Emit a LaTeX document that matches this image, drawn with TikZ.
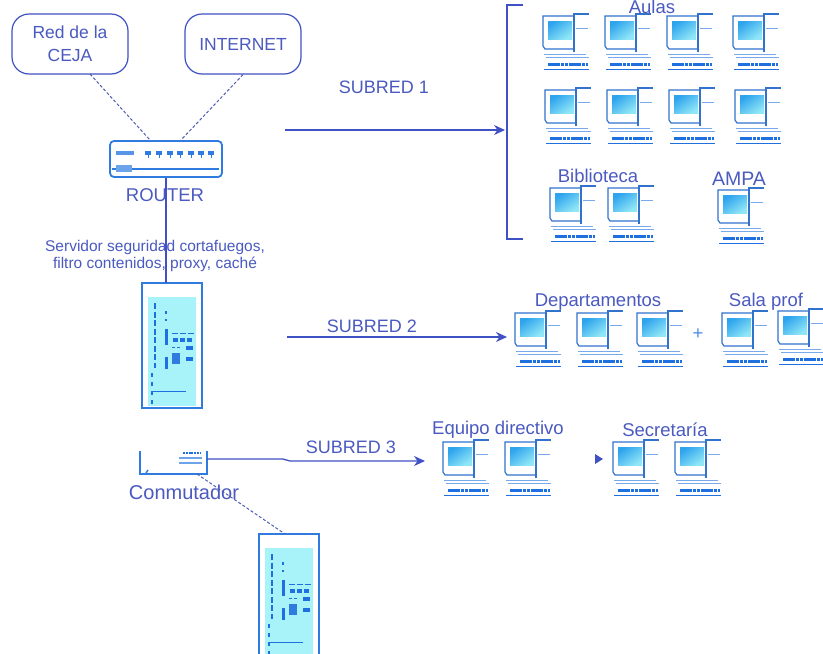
\documentclass[tikz,border=0pt]{standalone}
\usepackage{fontspec}
\setmainfont{Liberation Sans}
\usetikzlibrary{arrows.meta,positioning}
\definecolor{lineblue}{HTML}{3F51C4}
\definecolor{txtblue}{HTML}{4A5AC0}
\definecolor{pcblue}{HTML}{1E6FE0}
\definecolor{scrA}{HTML}{2FA4EE}
\definecolor{scrB}{HTML}{8FE6F6}
\definecolor{srv}{HTML}{A8F2FA}
\definecolor{srvedge}{HTML}{2F7BE0}
\tikzset{
  x=1pt,y=-1pt,
  lbl/.style={font=\fontsize{18.5}{20}\selectfont,text=txtblue,inner sep=0pt,align=center},
  sublbl/.style={font=\fontsize{18}{20}\selectfont,text=txtblue,inner sep=0pt,align=center},
  small/.style={font=\fontsize{15.5}{17.5}\selectfont,text=txtblue,inner sep=0pt,align=center},
  cloudbox/.style={draw=lineblue,line width=1.2pt,rounded corners=17pt,fill=white,inner sep=0pt,
    minimum width=116pt,minimum height=60pt,align=center,font=\fontsize{17.5}{23}\selectfont,text=txtblue},
  link/.style={draw=lineblue!75!gray,line width=1pt,densely dashed},
  wire/.style={draw=lineblue,line width=1.3pt},
  arrow/.style={wire,-{Stealth[length=11pt,width=10pt]}},
  pc/.pic={
    \shade[left color=scrA,right color=scrB,shading angle=35] (5,5) rectangle (29,23);
    \draw[pcblue!80!gray,line width=1.2pt] (30,0)--(0,0)--(0,30)--(2,33)--(30,33);
    \draw[pcblue!80!gray,line width=1.4pt] (31,36)--(31,-2)--(46,-2);
    \draw[pcblue!60!white,line width=1pt] (33,12)--(45,12);
    \draw[pcblue!60!white,line width=1pt] (1,38)--(43,38) (3,41)--(46,41);
    \draw[pcblue,line width=3.6pt,dash pattern=on 3.5pt off .7pt] (5,48.5)--(45,48.5);
    \draw[pcblue,line width=1pt] (1,53)--(46,53);
  },
  server/.pic={
    \draw[srvedge,line width=2.2pt,fill=white] (0,0) rectangle (60,125);
    \fill[srv] (6,14) rectangle (54,123);
    \draw[pcblue,line width=2.6pt,dash pattern=on 6pt off 2.5pt] (13,20)--(13,85);
    \draw[pcblue,line width=1.2pt,dash pattern=on 4pt off 5pt] (10,90)--(10,123);
    \draw[pcblue,line width=2pt] (24,28)--(24,31) (24,36)--(24,38);
    \draw[pcblue,line width=3pt] (24,46)--(24,62) (24,74)--(24,86);
    \draw[pcblue,line width=1pt,dash pattern=on 6pt off 2pt] (30,50)--(52,50);
    \draw[pcblue,line width=3.6pt,dash pattern=on 5pt off 2pt] (31,57)--(51,57);
    \draw[pcblue,line width=3.4pt] (44,65)--(51,65) (44,76)--(51,76);
    \draw[pcblue,line width=1pt,dash pattern=on 3pt off 2pt] (30,64)--(40,64);
    \fill[srvedge] (30,70) rectangle (38,81);
    \draw[pcblue,line width=1pt] (11,108)--(44,108);
  },
}
\begin{document}
\begin{tikzpicture}
\clip (0,0) rectangle (823,654);
\fill[white] (0,0) rectangle (823,654);

% clouds
\node[cloudbox] (ceja) at (70,44) {Red de la\\CEJA};
\node[cloudbox] (inet) at (243,44) {INTERNET};

% router
\node[draw=srvedge,line width=1.8pt,rounded corners=4pt,fill=white,minimum width=112pt,minimum height=36pt,inner sep=0pt] (router) at (166,159) {};
\draw[srvedge,line width=1.2pt] (112,169)--(219,169);
\fill[srvedge!80!white] (116,151) rectangle (134,155);
\fill[srvedge!70!white] (116,165) rectangle (132,172);
\foreach \px in {148,159,170,180,191,201,211}{\fill[srvedge] (\px-2.6,150.5) rectangle (\px+2.6,155);\draw[srvedge,line width=.8pt] (\px,154)--(\px,158);}
\node[lbl] (routerlbl) at (165,195) {ROUTER};

% servers
\coordinate (srvatop) at (166,283);
\pic at (142,283) {server};
\pic at (259,534) {server};
\coordinate (srvbtop) at (285,534);

% switch
\coordinate (swout) at (207,459);
\coordinate (swlow) at (197,474);
\draw[srvedge,line width=1.2pt] (140,451)--(140,474)--(207,474)--(207,451);
\draw[srvedge,line width=1.4pt] (146,473)--(148,470);
\draw[srvedge!70!white,line width=1.4pt] (179,458)--(202,458) (179,463)--(202,463);
\draw[pcblue,line width=2.6pt,dash pattern=on 2pt off .8pt] (183,453)--(201,453);
\node[lbl,font=\fontsize{20}{22}\selectfont] (swlbl) at (184,492) {Conmutador};

% links
\coordinate (cejaout) at (90,74);
\draw[link] (cejaout) -- (150,140);
\draw[link] (inet.south) -- (181,140);
\draw[wire] (router.south) -- (srvatop);
\draw[link] (swlow) -- (srvbtop);

\node[small] (srvlbl) at (155,256) {Servidor seguridad cortafuegos,\\filtro contenidos, proxy, caché};

% subredes
\coordinate (s1a) at (285,130); \coordinate (s1b) at (505,130);
\coordinate (s2a) at (287,337); \coordinate (s2b) at (507,337);
\coordinate (s3b) at (425,461);
\draw[arrow] (s1a) -- (s1b);
\draw[arrow] (s2a) -- (s2b);
\draw[arrow] (swout) -- (283,459) -- (290,461) -- (s3b);
\node[sublbl] (sub1) at (384,87) {SUBRED 1};
\node[sublbl] (sub2) at (372,326) {SUBRED 2};
\node[sublbl] (sub3) at (351,447) {SUBRED 3};

% bracket
\draw[lineblue,line width=1.3pt] (523,5)--(507,5)--(507,239)--(523,239);

% group titles
\node[lbl] (aulas) at (652,7) {Aulas};
\node[lbl] (biblio) at (598,176) {Biblioteca};
\node[lbl,font=\fontsize{19.5}{21}\selectfont] (ampa) at (739,179) {AMPA};
\node[lbl] (deptos) at (598,302) {Departamentos};
\node[lbl] (sala) at (766,302) {Sala prof};
\node[lbl] (equipo) at (498,430) {Equipo directivo};
\node[lbl] (secre) at (665,430) {Secretaría};
\node[lbl,text=pcblue!80!white] (plus) at (698,334) {+};
\fill[lineblue] (595,454)--(603,459)--(595,464)--cycle;

% computers
\foreach \px/\py in {543/16,605/16,667/16,733/16,
                     545/90,607/90,669/90,735/90,
                     550/188,608/188,718/190,
                     515/313,577/313,637/313,722/313,778/311,
                     443/442,505/442,613/442,675/442}{
  \pic at (\px,\py) {pc};
}
\end{tikzpicture}
\end{document}
